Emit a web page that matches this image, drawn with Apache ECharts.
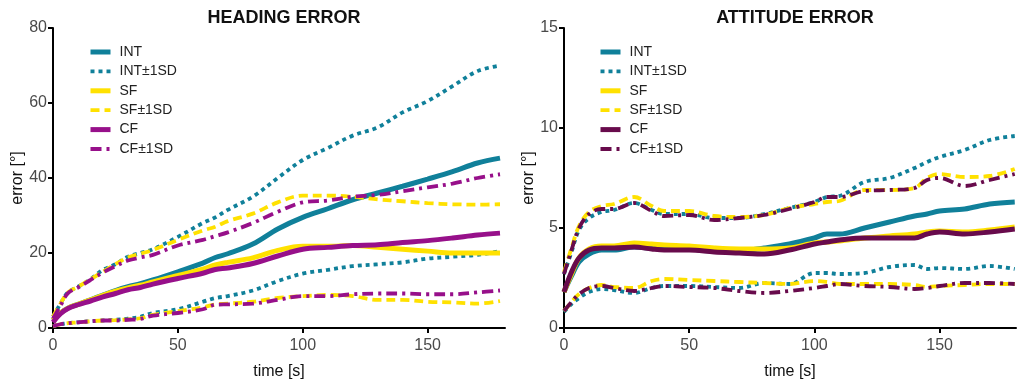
<!DOCTYPE html>
<html><head><meta charset="utf-8">
<script src="https://cdn.jsdelivr.net/npm/echarts@6/dist/echarts.min.js"></script>
<style>html,body{margin:0;padding:0;background:#fff}#c{width:1024px;height:390px}</style>
</head><body><div id="c"></div>
<script>
// ---------- DATA ----------
const titles = ['HEADING ERROR', 'ATTITUDE ERROR'];
const legendNames = ['INT', 'INT±1SD', 'SF', 'SF±1SD', 'CF', 'CF±1SD'];
const xTicks = [0, 50, 100, 150];
const headingTicks = [0, 20, 40, 60, 80];
const attitudeTicks = [0, 5, 10, 15];

// Heading error (left)
const headingTime   = [0, 3, 6, 10, 15, 20, 25, 30, 35, 40, 50, 60, 65, 70, 80, 90, 100, 110, 120, 130, 140, 150, 160, 170, 179];
const headingINT    = [2, 4, 5.3, 6.3, 7.5, 8.8, 10, 11, 11.8, 12.8, 15, 17.3, 18.8, 19.8, 22.4, 26.4, 29.5, 31.8, 34.2, 36, 37.8, 39.7, 41.7, 44, 45.3];
const headingINTup  = [3, 6.5, 9.5, 11, 13, 15.5, 17, 19, 20, 21, 24.3, 28, 29.5, 31.5, 35, 40, 44.8, 48, 51.3, 53.5, 57.5, 60.5, 64.5, 68.5, 70];
const headingINTlo  = [0.5, 1, 1.3, 1.5, 1.8, 2, 2.2, 2.5, 3, 4, 5, 7, 8, 8.5, 10, 12.5, 14.5, 15.5, 16.5, 17, 17.5, 18.5, 19, 19.5, 20.5];
const headingSF     = [2, 4, 5.3, 6.3, 7.5, 8.7, 9.8, 10.7, 11.4, 12.3, 14, 15.7, 16.8, 17.5, 18.7, 20.7, 21.8, 21.8, 22, 21.5, 21, 20.5, 20, 20, 20];
const headingSFup   = [3, 6.5, 9.5, 11, 13, 15, 17, 18.8, 19.8, 20.8, 23.5, 26, 27, 28.5, 30.5, 33.5, 35.3, 35.3, 35, 34.3, 33.8, 33.3, 33, 32.9, 33];
const headingSFlo   = [0.5, 1, 1.3, 1.5, 1.8, 2, 2.1, 2.3, 2.6, 3.5, 4.5, 5.5, 6.3, 6.5, 7, 8, 8.5, 8.8, 8.5, 7.5, 7.5, 7, 6.8, 6.5, 7.2];
const headingCF     = [1.5, 3.8, 5.2, 6.2, 7.2, 8.3, 9.2, 10.2, 10.8, 11.7, 13.2, 14.6, 15.6, 16, 17.2, 19.2, 21, 21.5, 22, 22.2, 22.8, 23.3, 24, 24.8, 25.3];
const headingCFup   = [2.5, 6, 9.3, 10.8, 12.8, 14.8, 16.5, 18, 18.8, 19.5, 22, 23.5, 24.5, 25.5, 28, 31, 33.5, 34, 35, 35.5, 36.5, 37.5, 38.5, 40, 41];
const headingCFlo   = [0.5, 1, 1.3, 1.5, 1.8, 2, 2, 2.2, 2.4, 3.3, 4, 5, 6.2, 6.3, 6.5, 7.5, 8.5, 8.5, 9, 9.2, 9.2, 9, 9, 9.5, 10];

// Attitude error (right)
const attTime   = [0, 3, 6, 10, 15, 20, 28, 35, 40, 50, 60, 70, 80, 90, 100, 105, 110, 120, 130, 140, 145, 150, 160, 170, 180];
const attINT    = [1.8, 2.6, 3.3, 3.7, 3.9, 3.9, 4.05, 4, 4, 3.95, 3.85, 3.85, 4, 4.2, 4.5, 4.7, 4.7, 5, 5.3, 5.6, 5.7, 5.85, 5.95, 6.2, 6.3];
const attINTup  = [2.7, 3.8, 4.9, 5.5, 5.8, 5.9, 6.25, 5.9, 5.7, 5.7, 5.5, 5.5, 5.7, 6, 6.3, 6.55, 6.6, 7.3, 7.5, 8, 8.3, 8.55, 8.9, 9.4, 9.6];
const attINTlo  = [0.8, 1.2, 1.5, 1.8, 1.95, 1.9, 1.75, 2, 2.1, 2.1, 2.05, 2, 2.25, 2.2, 2.75, 2.75, 2.7, 2.75, 3.05, 3.15, 2.95, 3, 2.95, 3.1, 2.95];
const attSF     = [1.8, 2.7, 3.5, 3.95, 4.1, 4.1, 4.25, 4.2, 4.15, 4.1, 4, 3.95, 3.95, 4, 4.25, 4.3, 4.35, 4.5, 4.6, 4.7, 4.8, 4.85, 4.8, 4.9, 5.05];
const attSFup   = [2.8, 4, 5.1, 5.8, 6.1, 6.2, 6.55, 6.1, 5.85, 5.85, 5.6, 5.55, 5.65, 6, 6.2, 6.3, 6.35, 6.9, 6.9, 7, 7.5, 7.7, 7.55, 7.6, 7.95];
const attSFlo   = [0.85, 1.3, 1.7, 2, 2.15, 2.05, 2, 2.35, 2.45, 2.4, 2.35, 2.3, 2.25, 2.2, 2.35, 2.3, 2.2, 2.2, 2.2, 2.15, 2.05, 2.1, 2.15, 2.2, 2.2];
const attCF     = [1.8, 2.8, 3.5, 3.9, 4, 4, 4.05, 3.95, 3.9, 3.9, 3.8, 3.75, 3.7, 3.9, 4.2, 4.3, 4.4, 4.5, 4.5, 4.5, 4.7, 4.8, 4.7, 4.8, 4.95];
const attCFup   = [2.7, 3.9, 5, 5.7, 5.95, 5.95, 6.25, 5.85, 5.6, 5.65, 5.4, 5.5, 5.65, 5.95, 6.3, 6.55, 6.55, 6.85, 6.9, 7, 7.4, 7.5, 7.1, 7.4, 7.7];
const attCFlo   = [0.85, 1.3, 1.7, 2, 2.1, 2, 1.85, 2, 2.1, 2.05, 2, 1.85, 1.75, 1.85, 2, 2.1, 2.2, 2.1, 2.05, 1.95, 2, 2.1, 2.25, 2.25, 2.2];

// ---------- STYLE ----------
const FONT = '"Liberation Sans Narrow", "Arial Narrow", "Liberation Sans", Arial, sans-serif';
const TEAL = '#10809a', YELLOW = '#ffe100', PURPLE = '#97108a', MAROON = '#680b4c';
const DOT = [4, 4], DASH = [9, 5], DASHDOT = [11, 5, 3, 5];
const SOLID_W = 5, SD_W = 3.8;

function pairs(t, v) { return t.map((x, i) => [x, v[i]]); }
function line(name, t, v, color, dash, width, idx) {
  return {
    type: 'line', name: name, xAxisIndex: idx, yAxisIndex: idx,
    data: pairs(t, v), smooth: 0.35, showSymbol: false, symbol: 'none',
    lineStyle: { color: color, width: width, type: dash || 'solid', cap: 'butt' },
    itemStyle: { color: color }, emphasis: { disabled: true }, animation: false
  };
}

const P = ['', 'att-'];
const series = [];
function addChart(idx, t, d, cfColor) {
  const p = P[idx];
  series.push(line(p + 'INT', t, d[0], TEAL, null, SOLID_W, idx));
  series.push(line(p + 'INT±1SD', t, d[1], TEAL, DOT, SD_W, idx));
  series.push(line(p + 'INT±1SD', t, d[2], TEAL, DOT, SD_W, idx));
  series.push(line(p + 'SF', t, d[3], YELLOW, null, SOLID_W, idx));
  series.push(line(p + 'SF±1SD', t, d[4], YELLOW, DASH, SD_W, idx));
  series.push(line(p + 'SF±1SD', t, d[5], YELLOW, DASH, SD_W, idx));
  series.push(line(p + 'CF', t, d[6], cfColor, null, SOLID_W, idx));
  series.push(line(p + 'CF±1SD', t, d[7], cfColor, DASHDOT, SD_W, idx));
  series.push(line(p + 'CF±1SD', t, d[8], cfColor, DASHDOT, SD_W, idx));
}
addChart(0, headingTime, [headingINT, headingINTup, headingINTlo, headingSF, headingSFup, headingSFlo, headingCF, headingCFup, headingCFlo], PURPLE);
addChart(1, attTime, [attINT, attINTup, attINTlo, attSF, attSFup, attSFlo, attCF, attCFup, attCFlo], MAROON);

const grids = [
  { left: 53, right: 519, top: 28, bottom: 62 },
  { left: 564, right: 8, top: 28, bottom: 62 }
];
function xAxis(idx, max) {
  return {
    type: 'value', gridIndex: idx, min: 0, max: max,
    name: 'time [s]', nameLocation: 'middle', nameGap: 36,
    nameTextStyle: { fontFamily: FONT, fontSize: 16, color: '#111' },
    axisLine: { lineStyle: { color: '#000', width: 2 } },
    axisTick: { length: 5, lineStyle: { color: '#000', width: 2 }, customValues: xTicks },
    axisLabel: { customValues: xTicks, fontFamily: FONT, fontSize: 16, color: '#4a4a4a', margin: 10 },
    splitLine: { show: false }
  };
}
function yAxis(idx, ticks) {
  return {
    type: 'value', gridIndex: idx, min: ticks[0], max: ticks[ticks.length - 1],
    interval: ticks[1] - ticks[0],
    name: 'error [°]', nameLocation: 'middle', nameGap: 26,
    nameTextStyle: { fontFamily: FONT, fontSize: 16, color: '#111' },
    axisLine: { show: true, lineStyle: { color: '#000', width: 2 } },
    axisTick: { show: true, length: 5, lineStyle: { color: '#000', width: 2 } },
    axisLabel: { fontFamily: FONT, fontSize: 16, color: '#4a4a4a', margin: 6 },
    splitLine: { show: false }
  };
}
function legend(idx, left) {
  return {
    left: left, top: 45, orient: 'vertical', padding: 0,
    data: legendNames.map(n => ({
      name: P[idx] + n,
      lineStyle: { width: n.indexOf('1SD') >= 0 ? SD_W : SOLID_W }
    })),
    formatter: n => n.replace(/^att-/, ''),
    itemWidth: 20, itemHeight: 14, itemGap: 5.4,
    itemStyle: { color: 'rgba(0,0,0,0)', opacity: 0, borderWidth: 0 },
    selectedMode: false,
    textStyle: { fontFamily: FONT, fontSize: 14, color: '#222', padding: [0, 0, 0, 4] }
  };
}

const chart = echarts.init(document.getElementById('c'), null, { renderer: 'canvas' });
chart.setOption({
  backgroundColor: '#fff',
  animation: false,
  title: [
    { text: titles[0], left: 279, top: 4, textAlign: 'center', textStyle: { fontFamily: FONT, fontSize: 18, fontWeight: 'bold', color: '#111' } },
    { text: titles[1], left: 790, top: 4, textAlign: 'center', textStyle: { fontFamily: FONT, fontSize: 18, fontWeight: 'bold', color: '#111' } }
  ],
  legend: [legend(0, 88), legend(1, 598)],
  grid: grids,
  xAxis: [xAxis(0, 181), xAxis(1, 180.5)],
  yAxis: [yAxis(0, headingTicks), yAxis(1, attitudeTicks)],
  series: series
});
</script>
</body></html>
